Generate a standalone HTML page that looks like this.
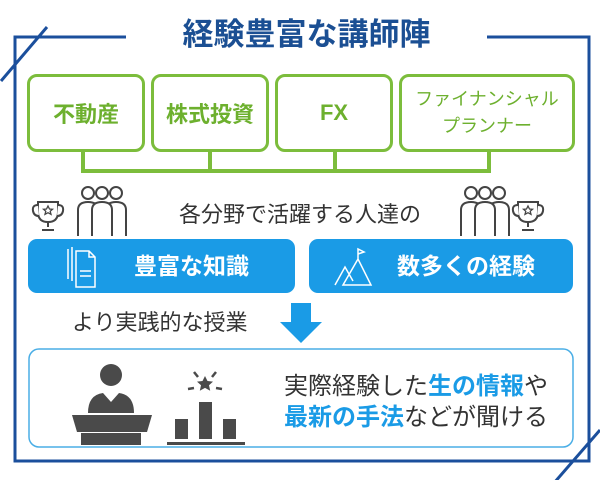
<!DOCTYPE html>
<html><head><meta charset="utf-8"><style>
*{margin:0;padding:0;box-sizing:border-box}
body{width:600px;height:480px;background:#fff;position:relative;overflow:hidden;font-family:"Liberation Sans","Noto Sans CJK JP",sans-serif}
.a{position:absolute}
.g{position:absolute;border:3px solid #7cbd3c;border-radius:10px;color:#6db02e;font-weight:bold;display:flex;align-items:center;justify-content:center;text-align:center;font-size:22px;top:74px;height:78px;background:#fff}
.b{position:absolute;top:239px;height:54px;background:#1a9be6;border-radius:9px;color:#fff;font-weight:bold;font-size:23px}
</style></head><body>
<svg class="a" style="left:0;top:0" width="600" height="480">
<g stroke="#1b4f9c" stroke-width="3" fill="none">
<polyline points="126,37 15,37 15,461 589,461 589,37 487,37"/>
<line x1="1" y1="81" x2="47" y2="27"/>
<line x1="554" y1="483" x2="600" y2="430"/>
</g>
<g stroke="#7cbd3c" stroke-width="4" fill="none">
<line x1="83" y1="152" x2="83" y2="172"/><line x1="210" y1="152" x2="210" y2="172"/>
<line x1="335" y1="152" x2="335" y2="172"/><line x1="489" y1="152" x2="489" y2="172"/>
<line x1="81" y1="171" x2="491" y2="171"/>
</g>
<g stroke="#444" stroke-width="2" fill="#fff">
<g id="pp">
<circle cx="116" cy="193" r="6"/><path d="M106 236 V210 Q106 202 116 202 Q126 202 126 210 V236"/>
<circle cx="88" cy="193" r="6"/><path d="M78 236 V210 Q78 202 88 202 Q98 202 98 210 V236"/>
<circle cx="102" cy="193" r="6"/><path d="M92 236 V210 Q92 202 102 202 Q112 202 112 210 V236"/>
</g>
<path d="M38 202 H58 V212 Q58 222 48 222 Q38 222 38 212 Z"/><path d="M38 205 Q32 205 33 211 Q34 216 39 216 M58 205 Q64 205 63 211 Q62 216 57 216"/>
<path d="M48 222 V227 M42 230 H54"/>
<path d="M48 206 l1.5 3 3 .3 -2.3 2 .8 3 -3-1.6 -3 1.6 .8-3 -2.3-2 3-.3z" stroke-width="1.3"/>
<use href="#pp" x="383"/>
<path d="M518 202 H538 V212 Q538 222 528 222 Q518 222 518 212 Z"/><path d="M518 205 Q512 205 513 211 Q514 216 519 216 M538 205 Q544 205 543 211 Q542 216 537 216"/>
<path d="M528 222 V227 M522 230 H534"/>
<path d="M528 206 l1.5 3 3 .3 -2.3 2 .8 3 -3-1.6 -3 1.6 .8-3 -2.3-2 3-.3z" stroke-width="1.3"/>
</g>
<path d="M291 303 H311 V322 H322 L301 343 L280 322 H291 Z" fill="#1a9be6"/>
<rect x="29" y="349" width="544" height="98" rx="10" fill="#fff" stroke="#4aaee6" stroke-width="1.5"/>
<g fill="#4a4a4a">
<circle cx="111" cy="375" r="11"/>
<path d="M88 413 Q88 395 103 393 L111 402 L119 393 Q134 395 134 413 Z"/>
<path d="M72 415 H152 L147 432 H77 Z"/><rect x="81" y="433" width="60" height="12"/>
<rect x="175" y="419" width="13" height="20"/><rect x="199" y="402" width="13" height="37"/><rect x="223" y="419" width="13" height="20"/>
<rect x="167" y="442" width="78" height="3"/>
<path d="M205 376 l2.5 5 5.5 .6 -4 3.7 1.2 5.4 -5.2-2.8 -5.2 2.8 1.2-5.4 -4-3.7 5.5-.6z"/>
</g>
<g stroke="#4a4a4a" stroke-width="2.5"><line x1="194" y1="372" x2="198" y2="377"/><line x1="216" y1="372" x2="212" y2="377"/><line x1="188" y1="389" x2="194" y2="388"/><line x1="222" y1="389" x2="216" y2="388"/></g>
</svg>
<div class="a" style="left:126px;width:361px;top:16px;text-align:center;font-size:31px;font-weight:bold;color:#1b4f93;line-height:38px">経験豊富な講師陣</div>
<div class="g" style="left:27px;width:118px">不動産</div>
<div class="g" style="left:151px;width:118px">株式投資</div>
<div class="g" style="left:275px;width:118px">FX</div>
<div class="g" style="left:399px;width:176px;font-size:18px;font-weight:normal;line-height:27px;color:#6db02e">ファイナンシャル<br>プランナー</div>
<div class="a" style="left:150px;width:300px;top:200px;text-align:center;font-size:22px;color:#333;line-height:30px">各分野で活躍する人達の</div>
<div class="b" style="left:28px;width:267px"><span class="a" style="left:106px;top:12px;line-height:30px">豊富な知識</span>
<svg class="a" style="left:35px;top:6px" width="40" height="44" fill="none" stroke="#fff" stroke-width="1.5"><path d="M5 4 V34 M9 2 V36 M13 6 H26 L32 12 V42 H13 Z M26 6 V12 H32 M17 26 H28 M17 31 H28"/></svg></div>
<div class="b" style="left:309px;width:264px"><span class="a" style="left:88px;top:12px;line-height:30px">数多くの経験</span>
<svg class="a" style="left:24px;top:6px" width="50" height="44" fill="none" stroke="#fff" stroke-width="1.5"><path d="M2 40 L12 22 L20 36 M10 40 L25 14 L38 40 Z M25 14 V4 L31 7 L25 9"/></svg></div>
<div class="a" style="left:72px;top:308px;font-size:22px;color:#333;line-height:30px">より実践的な授業</div>
<div class="a" style="left:284px;top:371px;font-size:24px;color:#333;line-height:31px">実際経験した<span style="color:#1a9be6;font-weight:bold">生の情報</span>や<br><span style="color:#1a9be6;font-weight:bold">最新の手法</span>などが聞ける</div>
</body></html>
